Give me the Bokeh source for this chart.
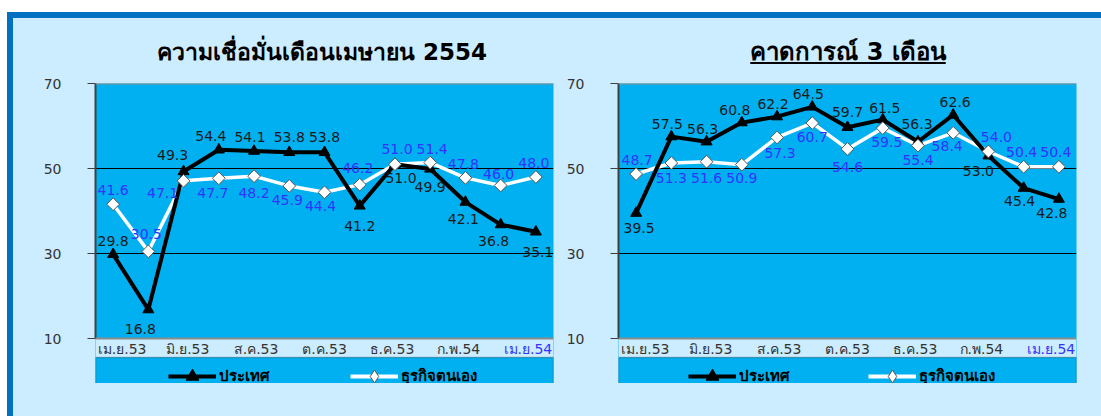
import math
from bokeh.plotting import figure
from bokeh.models import (ColumnDataSource, Range1d, FixedTicker, Span, BoxAnnotation,
                          Legend, LegendItem, Div, Spacer)
from bokeh.layouts import row, column
from bokeh.embed import file_html
from bokeh.resources import INLINE
from bokeh.core.properties import value

# ---------------- data ----------------
months = ["เม.ย.53", "พ.ค.53", "มิ.ย.53", "ก.ค.53", "ส.ค.53", "ก.ย.53", "ต.ค.53",
          "พ.ย.53", "ธ.ค.53", "ม.ค.54", "ก.พ.54", "มี.ค.54", "เม.ย.54"]
month_ticks = [0, 2, 4, 6, 8, 10, 12]
y_ticks = [10, 30, 50, 70]
series_names = ["ประเทศ", "ธุรกิจตนเอง"]
titles = ["ความเชื่อมั่นเดือนเมษายน 2554", "คาดการณ์ 3 เดือน"]

cur_country = [29.8, 16.8, 49.3, 54.4, 54.1, 53.8, 53.8, 41.2, 51.0, 49.9, 42.1, 36.8, 35.1]
cur_business = [41.6, 30.5, 47.1, 47.7, 48.2, 45.9, 44.4, 46.2, 51.0, 51.4, 47.8, 46.0, 48.0]
exp_country = [39.5, 57.5, 56.3, 60.8, 62.2, 64.5, 59.7, 61.5, 56.3, 62.6, 53.0, 45.4, 42.8]
exp_business = [48.7, 51.3, 51.6, 50.9, 57.3, 60.7, 54.6, 59.5, 55.4, 58.4, 54.0, 50.4, 50.4]

# data-label placement (pixel offsets dx, dy; dy positive = downwards)
cur_country_lab = [(0, -13), (-8, 19), (-11, -16), (-8, -14), (-4, -14), (0, -15), (0, -15),
                   (0, 20), (6, 14), (0, 18), (-2, 17), (-7, 16), (2, 20)]
cur_business_lab = [(0, -14), (-2, -17), (-21, 12), (-6, 15), (0, 17), (-2, 14), (-4, 14),
                    (-2, -17), (2, -15), (2, -14), (-2, -14), (-2, -12), (-2, -14)]
exp_country_lab = [(3, 15), (-4, -13), (-4, -13), (-7, -13), (-4, -13), (-4, -13), (0, -15),
                   (2, -12), (-1, -18), (2, -13), (-10, 15), (-4, 13), (-7, 14)]
exp_business_lab = [(1, -14), (0, 15), (0, 16), (0, 13), (3, 16), (0, 14), (0, 18),
                    (4, 14), (0, 14), (-6, 13), (8, -15), (-2, -15), (-3, -15)]
# horizontal nudges of the month names (pixels)
month_label_dx = [9, 4, 2, 0, -3, -7, -8]

# ---------------- style / layout ----------------
PLOT_BG = "#00B0F0"
PANEL_BG = "#CCECFF"
FRAME_BLUE = "#0070C0"
BLUE_TXT = "#3333FF"
DARK_TXT = "#1A1A1A"
AXIS_TXT = "#333333"
FONT = "DejaVu Sans"
N = len(months)

Y_LO, Y_HI = 10, 70
PLOT_PX = 255                     # pixel height of the 10..70 value band
PPU = PLOT_PX / (Y_HI - Y_LO)     # pixels per value unit
LABEL_ROW_PX = 10                 # month labels centre below the value axis
LEGEND_TOP_PX = 19                # legend box top below the value axis
FRAME_PX = 300                    # value band + month row + visible part of legend
FIG_H = 310


def make_source(vals, offs):
    return ColumnDataSource(dict(
        x=list(range(len(vals))), y=vals, t=[f"{v:.1f}" for v in vals],
        dx=[o[0] for o in offs], dy=[o[1] for o in offs]))


def chart(country, business, c_lab, b_lab, width, mbl, mbr, leg_x1, leg_x2):
    y_bottom = Y_HI - FRAME_PX / PPU
    p = figure(width=width, height=FIG_H, x_range=Range1d(-0.5, N - 0.5),
               y_range=Range1d(y_bottom, Y_HI), output_backend="svg", toolbar_location=None,
               title=None, x_axis_location=None,
               min_border_left=mbl, min_border_right=mbr, min_border_top=FIG_H - FRAME_PX,
               min_border_bottom=0, background_fill_color=PLOT_BG,
               border_fill_color=PANEL_BG, outline_line_color=None)
    p.xgrid.visible = False
    sc = make_source(country, c_lab)
    sb = make_source(business, b_lab)

    # region below the value axis: light band for month names, then the legend box
    y_leg = Y_LO - LEGEND_TOP_PX / PPU
    p.add_layout(BoxAnnotation(top=Y_LO, bottom=y_leg, fill_color=PANEL_BG, fill_alpha=1,
                               line_color=None, level="underlay"))
    p.add_layout(BoxAnnotation(top=y_leg, bottom=y_bottom - 5, fill_color=PLOT_BG,
                               fill_alpha=1, line_color="#333333", line_width=1.5,
                               level="underlay"))

    p.ygrid.ticker = FixedTicker(ticks=[30, 50])
    p.ygrid.grid_line_color = "black"
    p.ygrid.grid_line_width = 1
    p.add_layout(Span(location=Y_HI, dimension="width", line_color="#8C8C8C", line_width=2))
    p.add_layout(Span(location=Y_LO, dimension="width", line_color="#8C8C8C", line_width=2))

    p.line("x", "y", source=sb, line_color="white", line_width=3.5, line_join="round")
    p.line("x", "y", source=sc, line_color="black", line_width=4, line_join="round")
    p.scatter("x", "y", source=sc, marker="triangle", size=11,
              fill_color="black", line_color="black")
    p.scatter("x", "y", source=sb, marker="square", angle=math.pi / 4, size=9,
              fill_color="white", line_color="#555555", line_width=1)
    p.text("x", "y", text="t", source=sc, x_offset="dx", y_offset="dy",
           text_align="center", text_baseline="middle", text_font=value(FONT),
           text_font_size="14px", text_color=DARK_TXT)
    p.text("x", "y", text="t", source=sb, x_offset="dx", y_offset="dy",
           text_align="center", text_baseline="middle", text_font=value(FONT),
           text_font_size="14px", text_color=BLUE_TXT)

    # month (category) labels, last one highlighted in blue
    colors = [AXIS_TXT] * (len(month_ticks) - 1) + [BLUE_TXT]
    p.text(x=month_ticks, y=[Y_LO - LABEL_ROW_PX / PPU] * len(month_ticks),
           text=[months[i] for i in month_ticks], text_color=colors,
           x_offset=month_label_dx, text_align="center", text_baseline="middle",
           text_font=value(FONT), text_font_size="14px")

    ya = p.yaxis[0]
    ya.bounds = (Y_LO, Y_HI)
    ya.ticker = FixedTicker(ticks=y_ticks)
    ya.major_tick_out = 8
    ya.major_tick_in = 0
    ya.minor_tick_out = 0
    ya.minor_tick_in = 0
    ya.axis_line_color = "#404040"
    ya.axis_line_width = 2
    ya.major_tick_line_color = "#404040"
    ya.major_label_standoff = 26
    ya.major_label_text_font = FONT
    ya.major_label_text_font_size = "14px"
    ya.major_label_text_color = AXIS_TXT

    # legend (its lower part is cut by the canvas edge, as in the original)
    off = dict(x=[-10, -9], y=[-100, -100])
    rl1 = p.line(line_color="black", line_width=4, **off)
    rm1 = p.scatter(x=[-10], y=[-100], marker="triangle", fill_color="black", line_color="black")
    rl2 = p.line(line_color="white", line_width=4, **off)
    rm2 = p.scatter(x=[-10], y=[-100], marker="diamond", fill_color="white", line_color="#555555")
    common = dict(orientation="horizontal", padding=0, margin=0, glyph_width=48,
                  glyph_height=32, label_height=32, label_standoff=3, border_line_color=None,
                  background_fill_alpha=0, label_text_font=FONT, label_text_font_size="15px",
                  label_text_font_style="bold", label_text_color="black")
    p.add_layout(Legend(items=[LegendItem(label=series_names[0], renderers=[rl1, rm1])],
                        location=(leg_x1, -9), **common))
    p.add_layout(Legend(items=[LegendItem(label=series_names[1], renderers=[rl2, rm2])],
                        location=(leg_x2, -9), **common))
    return p


def title_div(txt, width, pad_left, underline, size):
    deco = "text-decoration:underline;" if underline else ""
    html = (f'<div style="margin:0;width:{width}px;height:55px;box-sizing:border-box;'
            f'text-align:center;padding-left:{pad_left}px;padding-top:19px;'
            f'font-family:\'{FONT}\',sans-serif;font-size:{size}px;font-weight:bold;'
            f'line-height:30px;color:#000;{deco}">{txt}</div>')
    return Div(text=html, width=width, height=55, margin=0)


LW, RW = 550, 538
CONTENT_H = 398
left_col = column(
    title_div(titles[0], LW, 68, False, 23),
    chart(cur_country, cur_business, cur_country_lab, cur_business_lab, LW, 82, 10, 73, 255),
    Spacer(width=LW, height=CONTENT_H - 55 - FIG_H, margin=0),
    margin=0, spacing=0,
)
right_col = column(
    title_div(titles[1], RW, 32, True, 24),
    chart(exp_country, exp_business, exp_country_lab, exp_business_lab, RW, 55, 25, 70, 250),
    Spacer(width=RW, height=CONTENT_H - 55 - FIG_H, margin=0),
    margin=0, spacing=0,
)
content = row(left_col, right_col, margin=0, spacing=0,
              styles={"background-color": PANEL_BG})
left_bar = Div(width=6, height=CONTENT_H, margin=0, styles={"background-color": FRAME_BLUE})
top_bar = Div(width=1094, height=6, margin=0, styles={"background-color": FRAME_BLUE})
framed = column(top_bar, row(left_bar, content, margin=0, spacing=0), margin=0, spacing=0)
page = column(Spacer(width=1101, height=12, margin=0),
              row(Spacer(width=7, height=404, margin=0), framed, margin=0, spacing=0),
              margin=0, spacing=0)

open("out.html", "w").write(file_html(page, INLINE))
